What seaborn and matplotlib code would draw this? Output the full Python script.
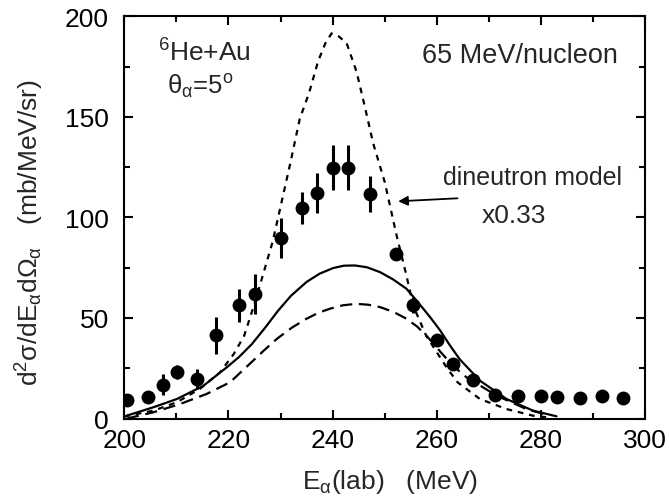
import numpy as np
import pandas as pd
import matplotlib
matplotlib.use("Agg")
import matplotlib.pyplot as plt
import seaborn as sns

# ---- data ----
exp_E = [200.6, 204.6, 207.5, 210.1, 213.9, 217.6, 222.1, 225.1, 230.0, 234.1,
         237.0, 240.1, 243.0, 247.1, 252.2, 255.5, 260.0, 263.2, 267.0, 271.2,
         275.6, 280.0, 283.1, 287.6, 291.7, 295.7]
exp_sigma = [9.2, 10.9, 16.9, 23.2, 19.7, 41.3, 56.2, 62.0, 89.8, 104.7,
             112.3, 124.8, 124.8, 111.8, 82.0, 56.5, 39.0, 27.1, 19.3, 11.9,
             11.4, 11.4, 10.9, 10.2, 11.1, 10.2]
exp_err = [1.5, 1.5, 5.0, 3.5, 5.0, 9.0, 8.0, 10.0, 10.0, 8.0,
           10.0, 11.0, 11.0, 9.0, 2.5, 4.0, 2.0, 1.5, 1.0, 1.0,
           1.0, 1.0, 1.0, 1.0, 1.0, 1.0]

dineutron_E = [200.0, 205.6, 210.1, 214.5, 218.4, 221.0, 223.0, 225.0, 228.5, 231.8,
               233.7, 235.5, 237.2, 238.6, 239.8, 241.2, 242.7, 244.6, 246.2, 247.8,
               250.0, 252.3, 254.1, 255.5, 258.0, 260.0, 262.0, 264.0, 268.3, 273.4,
               278.5, 281.5]
dineutron_sigma = [1.0, 3.9, 8.1, 14.7, 23.0, 32.0, 41.0, 57.0, 88.0, 126.0,
                   149.0, 162.0, 177.5, 186.5, 191.5, 190.0, 186.6, 172.5, 155.0, 136.8,
                   117.7, 91.0, 72.0, 56.0, 41.0, 33.0, 25.0, 18.0, 9.7, 4.7,
                   1.4, 0.5]

solid_E = [200.1, 205.6, 210.1, 215.2, 219.7, 222.0, 224.5, 227.0, 229.5, 232.0,
           235.0, 237.5, 240.1, 242.2, 244.3, 246.6, 249.1, 251.6, 254.2, 256.5,
           258.7, 260.6, 262.5, 264.4, 268.3, 273.4, 278.5, 283.0]
solid_sigma = [1.1, 5.6, 9.7, 16.3, 25.5, 30.5, 37.0, 45.0, 53.5, 61.0,
               67.9, 72.0, 74.8, 76.0, 76.1, 75.2, 72.8, 69.2, 64.5, 57.5,
               50.5, 44.0, 36.5, 29.5, 18.8, 9.7, 3.9, 1.1]

ldash_E = [200.5, 205.6, 210.7, 215.8, 220.3, 224.1, 226.8, 229.3, 232.2, 235.0,
           237.3, 239.5, 242.0, 244.5, 246.8, 249.1, 251.7, 254.2, 256.2, 258.0,
           260.6, 263.0, 265.7, 271.5, 277.2, 281.7]
ldash_sigma = [0.0, 3.1, 7.2, 12.2, 18.0, 27.2, 33.8, 39.6, 45.2, 49.6,
               52.6, 54.6, 56.3, 57.0, 56.6, 55.4, 53.0, 49.6, 45.8, 41.3,
               33.5, 26.5, 20.5, 11.4, 4.7, 1.4]

x_ticks = [200, 220, 240, 260, 280, 300]
y_ticks = [0, 50, 100, 150, 200]

# ---- style ----
sns.set_style("ticks")
plt.rcParams['font.family'] = ['Liberation Sans', 'DejaVu Sans']
plt.rcParams['mathtext.fontset'] = 'custom'
plt.rcParams['mathtext.rm'] = 'Liberation Sans'
plt.rcParams['mathtext.it'] = 'Liberation Sans'
plt.rcParams['mathtext.bf'] = 'Liberation Sans:bold'
plt.rcParams['mathtext.sf'] = 'Liberation Sans'

fig = plt.figure(figsize=(6.69, 5.02), dpi=100)
ax = fig.add_axes([124.3 / 669, 1 - 419.5 / 502, (645 - 124.3) / 669, (419.5 - 17.3) / 502])

exp_df = pd.DataFrame({"E": exp_E, "s": exp_sigma, "err": exp_err})

sns.lineplot(x=dineutron_E, y=dineutron_sigma, ax=ax, color='black', lw=1.6,
             linestyle=(0, (2.6, 2.6)), sort=False)
sns.lineplot(x=solid_E, y=solid_sigma, ax=ax, color='black', lw=1.6, sort=False)
sns.lineplot(x=ldash_E, y=ldash_sigma, ax=ax, color='black', lw=1.6,
             linestyle=(0, (5.5, 3.0)), sort=False)

ax.errorbar(exp_df["E"], exp_df["s"], yerr=exp_df["err"], fmt='none',
            ecolor='black', elinewidth=2.2, capsize=0, zorder=3)
sns.scatterplot(data=exp_df, x="E", y="s", ax=ax, color='black', s=100,
                edgecolor='black', linewidth=0, zorder=4)

ax.set_xlim(200, 300)
ax.set_ylim(0, 200)
ax.set_xticks(x_ticks)
ax.set_xticks(np.arange(200, 301, 10), minor=True)
ax.set_yticks(y_ticks)
ax.set_yticks(np.arange(0, 201, 25), minor=True)
ax.set_xticklabels([str(t) for t in x_ticks])
ax.set_yticklabels([str(t) for t in y_ticks])
ax.set_xlabel("")
ax.set_ylabel("")

ax.tick_params(which='both', direction='in', top=True, right=True, width=1.5,
               labelsize=19, colors='black')
ax.tick_params(which='major', length=6.5)
ax.tick_params(which='minor', length=4.5)
ax.tick_params(axis='x', which='major', pad=7)
ax.tick_params(axis='y', which='major', pad=11)
for sp in ax.spines.values():
    sp.set_linewidth(1.5)
    sp.set_color('black')
    sp.set_visible(True)

# labels
fig.text(390 / 669, 1 - 482 / 502, r"E$_{\alpha}$(lab)   (MeV)", ha='center', va='center',
         fontsize=19)
fig.text(30 / 669, 1 - 233 / 502, r"d$^{2}$σ/dE$_{\alpha}$dΩ$_{\alpha}$   (mb/MeV/sr)",
         rotation=90, ha='center', va='center', fontsize=19)

ax.text(206.5, 178.1, r"$^{6}$He+Au", fontsize=19, ha='left', va='baseline')
ax.text(208.2, 161.7, r"$\theta_{\alpha}$=5$^{\rm o}$", fontsize=18.5, ha='left', va='baseline')
ax.text(257.1, 177.1, "65 MeV/nucleon", fontsize=19.5, ha='left', va='baseline')
ax.text(261.2, 116.8, "dineutron model", fontsize=18, ha='left', va='baseline')
ax.text(268.6, 97.9, "x0.33", fontsize=19, ha='left', va='baseline')
ax.annotate("", xy=(252.6, 108.0), xytext=(264.0, 109.5),
            arrowprops=dict(arrowstyle='-|>', color='black', lw=1.3,
                            mutation_scale=14, shrinkA=0, shrinkB=0))

fig.savefig("out.png", dpi=100)
